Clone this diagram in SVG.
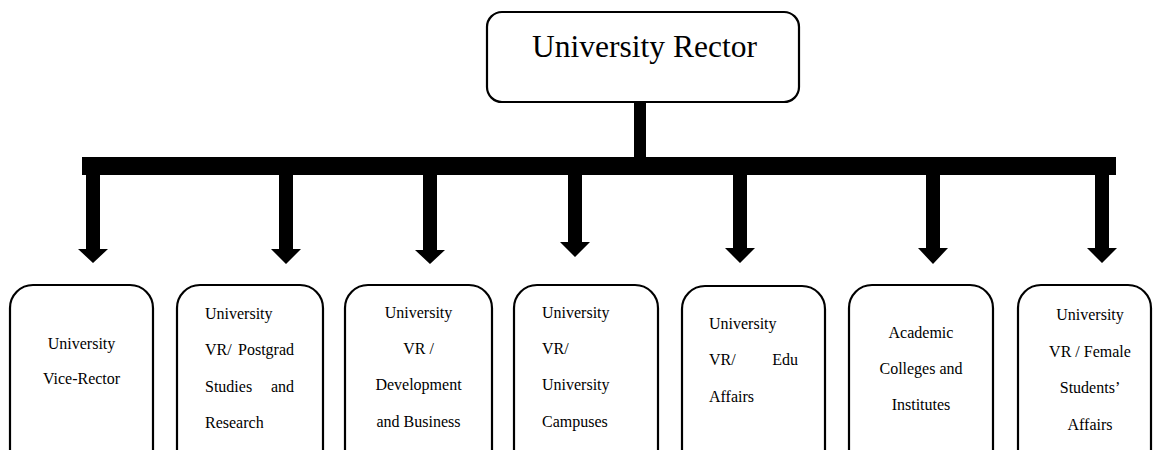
<svg xmlns="http://www.w3.org/2000/svg" width="1153" height="450" viewBox="0 0 1153 450">
<style>
.box{fill:#fff;stroke:#000;stroke-width:2.2}
.t{font-family:"Liberation Serif","Times New Roman",serif;font-size:16px;fill:#000}
.big{font-family:"Liberation Serif","Times New Roman",serif;font-size:31.5px;fill:#000}
.c{text-anchor:middle}
.e{text-anchor:end}
.con{fill:#000}
</style>
<rect width="1153" height="450" fill="#fff"/>
<g id="connectors" class="con">
<rect x="634" y="102" width="12" height="56"/>
<rect x="82" y="157" width="1034" height="18"/>
<path d="M86,175 H100 V249 H108 L93,263 L78,249 H86 Z"/>
<path d="M279,175 H293 V249 H301 L286,264 L271,249 H279 Z"/>
<path d="M423,175 H437 V250 H445 L430,264 L415,250 H423 Z"/>
<path d="M568,175 H582 V242 H590 L575,257 L560,242 H568 Z"/>
<path d="M733,175 H747 V248 H755 L740,263 L725,248 H733 Z"/>
<path d="M926,175 H940 V248 H948 L933,264 L918,248 H926 Z"/>
<path d="M1095,175 H1109 V248 H1117 L1102,263 L1087,248 H1095 Z"/>
</g>
<g id="rector">
<rect class="box" x="487" y="12" width="312" height="90" rx="15"/>
<text class="big c" x="644.5" y="57">University Rector</text>
</g>
<g id="vice-rector">
<rect class="box" x="10" y="285" width="143" height="200" rx="23"/>
<text class="t c" x="81.5" y="349">University</text>
<text class="t c" x="81.5" y="384">Vice-Rector</text>
</g>
<g id="vr-postgrad">
<rect class="box" x="177" y="285" width="146" height="200" rx="23"/>
<text class="t" x="205" y="319">University</text>
<text class="t" x="205" y="355">VR/</text>
<text class="t e" x="294" y="355">Postgrad</text>
<text class="t" x="205" y="392">Studies</text>
<text class="t e" x="294" y="392">and</text>
<text class="t" x="205" y="428">Research</text>
</g>
<g id="vr-development">
<rect class="box" x="345" y="285" width="147" height="200" rx="23"/>
<text class="t c" x="418.5" y="318">University</text>
<text class="t c" x="418.5" y="354">VR /</text>
<text class="t c" x="418.5" y="390">Development</text>
<text class="t c" x="418.5" y="427">and Business</text>
</g>
<g id="vr-campuses">
<rect class="box" x="514" y="285" width="144" height="200" rx="23"/>
<text class="t" x="542" y="318">University</text>
<text class="t" x="542" y="354">VR/</text>
<text class="t" x="542" y="390">University</text>
<text class="t" x="542" y="427">Campuses</text>
</g>
<g id="vr-edu">
<rect class="box" x="682" y="286" width="143" height="200" rx="23"/>
<text class="t" x="709" y="329">University</text>
<text class="t" x="709" y="365">VR/</text>
<text class="t e" x="798" y="365">Edu</text>
<text class="t" x="709" y="402">Affairs</text>
</g>
<g id="colleges">
<rect class="box" x="849" y="285" width="144" height="200" rx="23"/>
<text class="t c" x="921" y="338">Academic</text>
<text class="t c" x="921" y="374">Colleges and</text>
<text class="t c" x="921" y="410">Institutes</text>
</g>
<g id="vr-female">
<rect class="box" x="1018" y="285" width="133" height="200" rx="23"/>
<text class="t c" x="1090" y="320">University</text>
<text class="t c" x="1090" y="357">VR / Female</text>
<text class="t c" x="1090" y="393">Students’</text>
<text class="t c" x="1090" y="430">Affairs</text>
</g>
</svg>
